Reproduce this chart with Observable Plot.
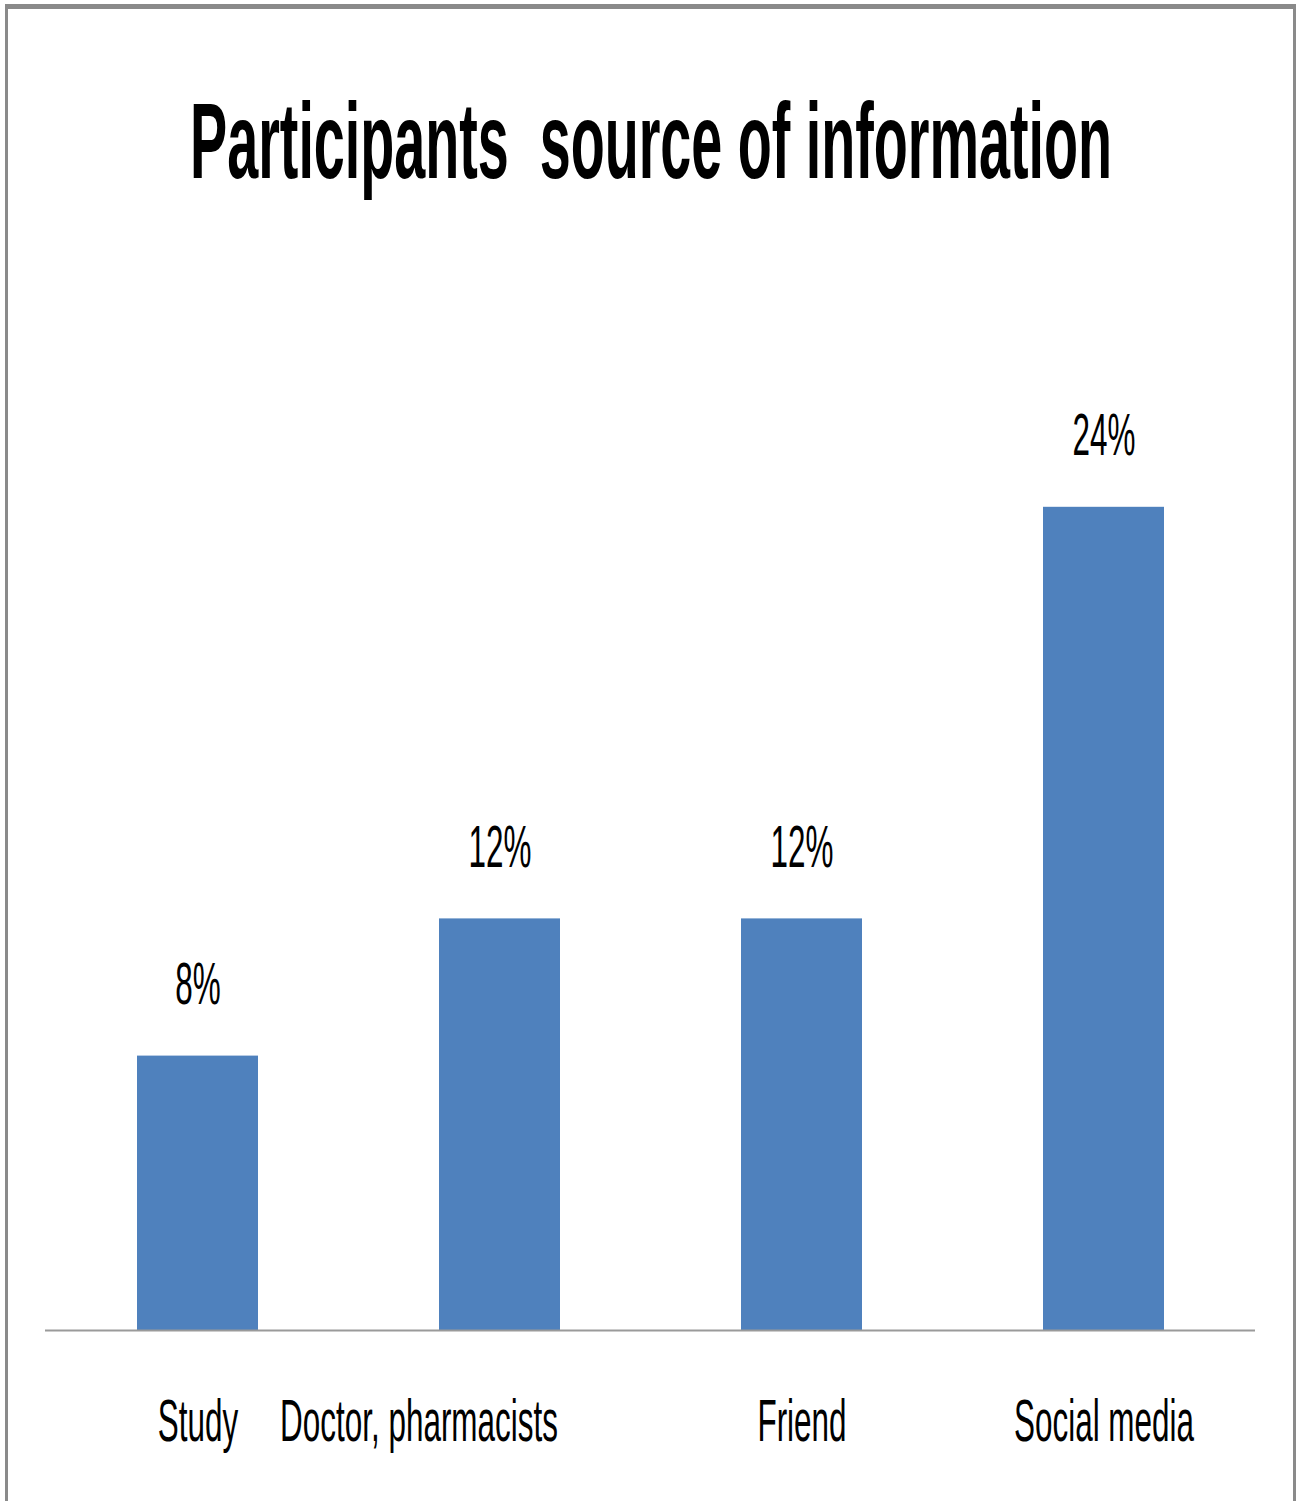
<!DOCTYPE html>
<html><head><meta charset="utf-8">
<script src="https://cdn.jsdelivr.net/npm/d3@7"></script>
<script src="https://cdn.jsdelivr.net/npm/@observablehq/plot@0.6"></script>
<style>
html,body{margin:0;padding:0;background:#fff;width:1301px;height:1501px;overflow:hidden;}
#frame{position:absolute;left:5px;top:4px;width:1291px;height:1600px;border-left:3px solid #8a8a8a;border-right:3px solid #8a8a8a;border-top:5px solid #8a8a8a;box-sizing:border-box;}
#chart{position:absolute;left:0;top:0;}
#title{position:absolute;left:0;top:0;}
</style></head>
<body>
<div id="frame"></div>
<div id="chart"></div>
<svg id="title" width="1301" height="240"></svg>
<script>
const titleText = "Participants  source of information";
const categories = ["Study", "Doctor, pharmacists", "Friend", "Social media"];
const values = [8, 12, 12, 24];
const valueLabels = ["8%", "12%", "12%", "24%"];

const FONT = "'Liberation Sans', Arial, sans-serif";
const data = categories.map((c, i) => ({cat: c, val: values[i], label: valueLabels[i]}));

function measure(text, size, weight) {
  const ctx = document.createElement("canvas").getContext("2d");
  ctx.font = `${weight} ${size}px ${FONT}`;
  return ctx.measureText(text).width;
}

const LABEL_SIZE = 59;
const sxLabel = 180 / measure("Social media", LABEL_SIZE, "normal");

const chart = Plot.plot({
  width: 1301, height: 1501,
  marginLeft: 45, marginRight: 46, marginTop: 301, marginBottom: 171,
  style: {fontFamily: FONT, background: "transparent", color: "#000"},
  x: {domain: categories, paddingInner: 0.6, paddingOuter: 0.3, axis: null},
  y: {domain: [0, 30], axis: null},
  marks: [
    Plot.barY(data, {x: "cat", y: "val", fill: "#4F81BD"}),
    Plot.ruleY([0], {stroke: "#9a9a9a", strokeWidth: 2}),
    Plot.text(data, {x: "cat", y: "val", text: "label", dy: -52, lineAnchor: "bottom", fontSize: LABEL_SIZE, fill: "#000"}),
    Plot.text(data.filter(d => d.cat !== categories[1]), {x: "cat", text: "cat", frameAnchor: "bottom", dy: 110, lineAnchor: "bottom", fontSize: LABEL_SIZE, fill: "#000"}),
    Plot.text(data.filter(d => d.cat === categories[1]), {x: "cat", text: "cat", frameAnchor: "bottom", dy: 110, dx: -81, lineAnchor: "bottom", fontSize: LABEL_SIZE, fill: "#000"})
  ]
});
chart.querySelectorAll("text").forEach(el => {
  const t = el.getAttribute("transform") || "";
  el.setAttribute("transform", t + ` scale(${sxLabel},1)`);
});
document.getElementById("chart").appendChild(chart);

// Title
const TITLE_SIZE = 108;
const sxTitle = 922 / measure(titleText, TITLE_SIZE, "bold");
const svgT = d3.select("#title");
svgT.append("text")
  .attr("transform", `translate(651,178) scale(${sxTitle},1)`)
  .attr("text-anchor", "middle")
  .style("white-space", "pre")
  .attr("font-family", FONT)
  .attr("font-weight", "bold")
  .attr("font-size", TITLE_SIZE)
  .attr("fill", "#000")
  .text(titleText);
</script>
</body></html>
